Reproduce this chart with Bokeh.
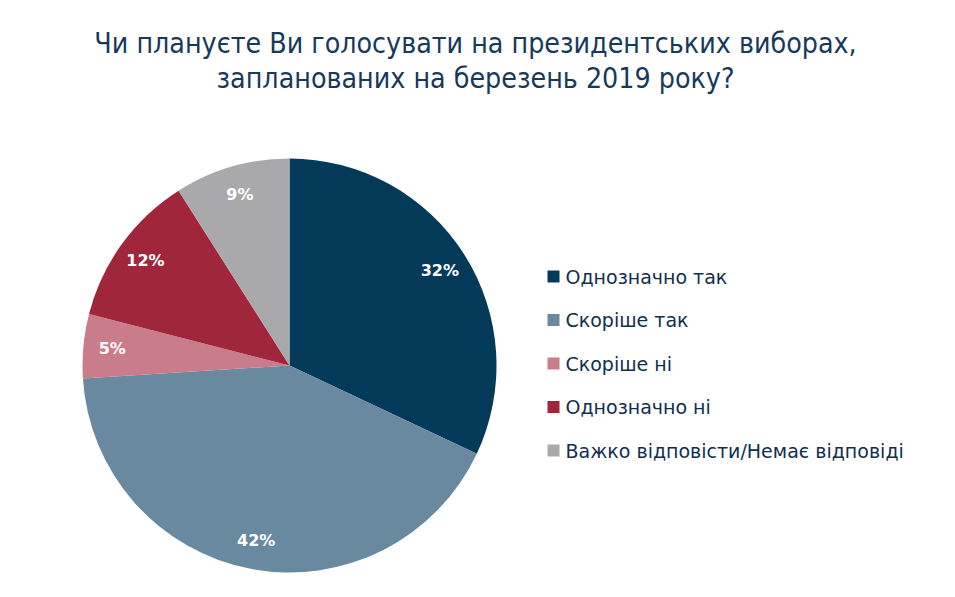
import math
from bokeh.plotting import figure
from bokeh.models import ColumnDataSource, Range1d
from bokeh.core.properties import value
from bokeh.embed import file_html
from bokeh.resources import INLINE

# ---- data ----
categories = ["Однозначно так", "Скоріше так", "Скоріше ні", "Однозначно ні",
              "Важко відповісти/Немає відповіді"]
shares = [32, 42, 5, 12, 9]
colors = ["#033a5a", "#6889a0", "#c97c89", "#a0263b", "#a9a9ac"]
title_lines = ["Чи плануєте Ви голосувати на президентських виборах,",
               "запланованих на березень 2019 року?"]

W, H = 939, 581
FONT = "DejaVu Sans"
TXT = "#102f4d"

p = figure(width=W, height=H, output_backend="svg", toolbar_location=None,
           x_range=Range1d(0, W), y_range=Range1d(0, H), min_border=0)
p.axis.visible = False
p.grid.visible = False
p.outline_line_color = None
p.background_fill_color = "white"
p.border_fill_color = "white"

# pie geometry (in pixel-like data units)
cx, cy, R = 289, H - 365, 207
total = float(sum(shares))
starts, ends, lx, ly, labels = [], [], [], [], []
acc = 0.0
for s in shares:
    a0 = math.pi / 2 - 2 * math.pi * acc / total
    a1 = math.pi / 2 - 2 * math.pi * (acc + s) / total
    starts.append(a0)
    ends.append(a1)
    mid = (a0 + a1) / 2
    lx.append(cx + 0.86 * R * math.cos(mid))
    ly.append(cy + 0.86 * R * math.sin(mid))
    labels.append(f"{s}%")
    acc += s

src = ColumnDataSource(dict(start=starts, end=ends, color=colors,
                            lx=lx, ly=ly, label=labels))
p.wedge(x=cx, y=cy, radius=R, start_angle="start", end_angle="end",
        direction="clock", fill_color="color", line_color=None, source=src)
p.text(x="lx", y="ly", text="label", source=src, text_color="white",
       text_font=value(FONT), text_font_size="16px", text_font_style="bold",
       text_align="center", text_baseline="middle")

# legend
leg_x0 = 553
leg_y0 = H - 276
leg_dy = 43.5
lgx = [leg_x0] * len(categories)
lgy = [leg_y0 - i * leg_dy for i in range(len(categories))]
lsrc = ColumnDataSource(dict(x=lgx, y=lgy, tx=[leg_x0 + 12] * len(categories),
                             color=colors, name=categories))
p.scatter(x="x", y="y", marker="square", size=12, fill_color="color",
          line_color=None, source=lsrc)
p.text(x="tx", y="y", text="name", source=lsrc, text_color=TXT,
       text_font=value(FONT), text_font_size="19px",
       text_align="left", text_baseline="middle")

# title
tsrc = ColumnDataSource(dict(x=[475, 475], y=[H - 43, H - 78], t=title_lines))
p.text(x="x", y="y", text="t", source=tsrc, text_color="#17395a",
       text_font=value("DejaVu Sans Condensed"), text_font_size="28.3px",
       text_align="center", text_baseline="middle")

open("out.html", "w").write(file_html(p, INLINE))
